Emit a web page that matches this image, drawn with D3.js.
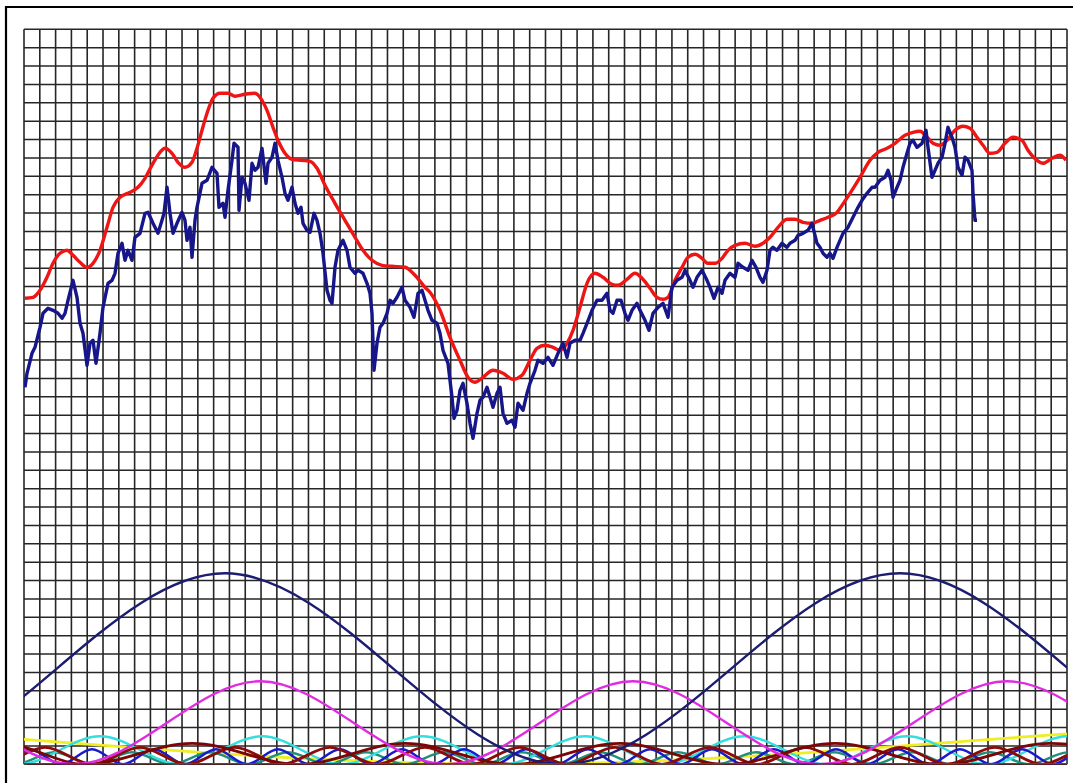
<!DOCTYPE html>
<html>
<head>
<meta charset="utf-8">
<script src="https://cdn.jsdelivr.net/npm/d3@7"></script>
<style>
  html, body { margin: 0; padding: 0; background: #ffffff; }
  svg { display: block; }
</style>
</head>
<body>
<svg id="chart" width="1073" height="783"></svg>
<script>
// ---- price series: [bar, level] ----
const price = [[1,377],[3,391],[8,411],[11,417],[16,437],[19,451],[24,456],[29,454],[34,451],[38,446],[41,451],[44,464],[49,484],[53,467],[56,441],[59,431],[63,399],[66,421],[69,424],[72,401],[76,431],[79,457],[84,481],[88,484],[91,491],[94,511],[98,521],[101,504],[104,514],[108,504],[111,527],[116,531],[121,551],[124,552],[129,541],[134,531],[138,544],[140,551],[143,577],[146,551],[149,531],[153,541],[158,552],[161,544],[163,524],[166,537],[168,507],[171,544],[173,557],[178,581],[183,584],[188,597],[193,591],[195,557],[199,561],[201,547],[204,574],[208,604],[210,621],[214,617],[215,554],[218,587],[221,581],[225,564],[228,601],[231,594],[234,597],[238,616],[242,581],[244,601],[248,607],[251,621],[254,604],[258,587],[261,571],[264,564],[268,577],[271,561],[274,551],[277,557],[279,541],[283,534],[286,532],[290,551],[293,544],[296,531],[299,511],[303,474],[306,464],[308,461],[311,497],[314,514],[319,524],[323,514],[326,497],[331,491],[334,494],[339,491],[343,481],[346,471],[348,451],[350,394],[353,421],[356,437],[359,441],[363,451],[366,464],[369,461],[373,467],[378,477],[381,464],[386,457],[390,447],[394,471],[398,474],[401,464],[404,454],[408,444],[413,441],[416,431],[419,414],[424,401],[428,367],[430,346],[433,354],[436,374],[439,381],[443,361],[446,341],[449,326],[453,351],[456,364],[459,367],[463,377],[466,367],[469,357],[473,371],[476,377],[479,351],[483,341],[488,344],[491,337],[494,361],[499,354],[503,371],[506,381],[511,394],[514,404],[519,401],[524,407],[529,399],[534,411],[539,421],[543,407],[546,421],[551,424],[556,424],[559,431],[563,441],[568,454],[573,464],[578,464],[583,471],[586,454],[589,451],[593,464],[597,464],[601,451],[604,444],[608,454],[613,461],[616,454],[621,444],[625,434],[629,451],[634,457],[639,461],[644,447],[648,477],[653,484],[658,487],[661,494],[666,484],[669,477],[673,487],[678,494],[683,484],[686,477],[690,466],[694,477],[698,471],[701,484],[706,491],[711,487],[714,501],[719,497],[724,494],[728,504],[732,497],[736,487],[739,482],[743,494],[746,514],[749,517],[753,514],[758,521],[763,517],[766,521],[771,524],[774,529],[779,531],[784,534],[788,541],[793,521],[796,517],[799,511],[803,507],[806,511],[809,506],[813,517],[816,524],[819,531],[824,537],[829,547],[834,557],[838,564],[843,571],[848,577],[851,577],[856,584],[861,587],[864,594],[867,584],[869,567],[873,577],[876,584],[879,597],[883,611],[886,621],[889,624],[893,617],[898,621],[902,634],[904,617],[908,587],[911,594],[914,601],[918,607],[921,621],[924,637],[928,627],[931,617],[934,597],[938,589],[941,607],[944,604],[948,594],[949,571],[951,544],[953,544]];

// ---- composite cycle projection (extends past the last price bar) ----
const projection = [[1,466],[9,467],[16,474],[23,487],[29,501],[36,511],[43,514],[49,509],[56,502],[63,497],[69,501],[76,514],[83,537],[89,557],[96,567],[106,572],[114,577],[121,586],[129,601],[136,612],[141,616],[148,611],[154,602],[161,597],[168,602],[173,616],[178,634],[183,651],[189,666],[196,671],[204,671],[211,668],[221,670],[231,671],[238,664],[243,654],[249,637],[254,624],[261,611],[268,605],[278,604],[286,603],[293,596],[301,579],[311,561],[321,544],[331,527],[339,514],[348,504],[358,499],[368,498],[381,497],[391,489],[401,477],[406,472],[416,454],[426,427],[436,404],[444,387],[451,382],[459,387],[469,394],[479,391],[489,385],[498,389],[506,404],[513,416],[521,419],[529,417],[536,414],[543,421],[549,434],[556,457],[563,481],[571,491],[579,487],[588,480],[594,479],[603,485],[611,491],[618,486],[626,476],[633,467],[639,465],[644,467],[651,484],[658,497],[664,507],[671,510],[678,506],[684,501],[691,501],[698,506],[704,514],[711,519],[721,521],[731,518],[739,521],[746,527],[754,537],[763,545],[771,545],[779,542],[788,541],[796,544],[804,547],[813,552],[816,556],[826,571],[836,587],[846,604],[854,612],[863,616],[871,621],[881,629],[889,632],[896,633],[903,627],[909,621],[916,619],[923,624],[931,634],[939,638],[946,636],[953,627],[959,619],[966,611],[973,612],[981,621],[989,627],[998,624],[1004,614],[1013,604],[1019,601],[1028,606],[1036,609],[1042,604]];

// ---- individual cycles: turning points [bar, amplitude] ----
const cycleLong   = [[-474,191],[-136,0],[201,191],[538,0],[876,191],[1213,0],[1551,191]];
const cycleMid    = [[-324,0],[-137,83],[50,0],[236,83],[423,0],[609,83],[796,0],[983,83],[1170,0],[1356,83]];
const cycleShort  = [[-86,28],[-5,0],[76,28],[157,0],[238,28],[318,0],[398,28],[480,0],[561,28],[640,0],[720,28],[802,0],[883,28],[964,0],[1044,28],[1125,0],[1206,28]];
const cycleSlow   = [[-1318,0],[-418,45],[483,0],[1383,45],[2283,0]];
const cycleQuarter = [[-130,0],[-22,21],[61,0],[168,21],[275,0],[381,21],[489,0],[596,21],[703,0],[811,21],[918,0],[1026,21],[1133,0]];
const cycleA      = [[-75,17],[-27,0],[21,17],[68,0],[116,17],[163,0],[211,17],[258,0],[306,17],[353,0],[401,17],[448,0],[496,17],[543,0],[591,17],[638,0],[686,17],[733,0],[781,17],[828,0],[876,17],[923,0],[971,17],[1018,0],[1066,17],[1113,0]];
const cycleB      = [[-56,15],[-25,0],[6,15],[37,0],[68,15],[99,0],[130,15],[161,0],[192,15],[223,0],[254,15],[285,0],[316,15],[347,0],[378,15],[409,0],[440,15],[471,0],[502,15],[533,0],[564,15],[595,0],[626,15],[657,0],[688,15],[719,0],[750,15],[781,0],[812,15],[843,0],[874,15],[905,0],[936,15],[967,0],[998,15],[1029,0],[1060,15],[1091,0]];
const cycleC      = [[-48,12],[-9,0],[30,12],[69,0],[108,12],[147,0],[186,12],[225,0],[264,12],[303,0],[342,12],[381,0],[420,12],[459,0],[498,12],[537,0],[576,12],[615,0],[654,12],[693,0],[732,12],[771,0],[810,12],[849,0],[888,12],[927,0],[966,12],[1005,0],[1044,12],[1083,0]];

const gridCols = 66, gridRows = 40;

const svg = d3.select("#chart");
const plot = { left: 24, right: 1067, top: 29.3, bottom: 764.3 };
const x = d3.scaleLinear().domain([0, 1043]).range([plot.left, plot.right]);
const y = d3.scaleLinear().domain([0, 735]).range([plot.bottom, plot.top]);

// outer frame (top and left rules)
svg.append("line").attr("x1", 6).attr("x2", 1073).attr("y1", 7).attr("y2", 7)
  .attr("stroke", "#000").attr("stroke-width", 2.2);
svg.append("line").attr("x1", 6).attr("x2", 6).attr("y1", 6).attr("y2", 783)
  .attr("stroke", "#000").attr("stroke-width", 2.2);

svg.append("defs").append("clipPath").attr("id", "plotClip")
  .append("rect").attr("x", plot.left).attr("y", plot.top)
  .attr("width", plot.right - plot.left).attr("height", plot.bottom - plot.top);

// grid
const grid = svg.append("g").attr("stroke", "#262626").attr("stroke-width", 1.6);
const colVals = d3.range(gridCols + 1).map(i => i * 1043 / gridCols);
const rowVals = d3.range(gridRows + 1).map(j => j * 735 / gridRows);
grid.selectAll("line.v").data(colVals).join("line").attr("class", "v")
  .attr("x1", d => x(d)).attr("x2", d => x(d))
  .attr("y1", plot.top).attr("y2", plot.bottom);
grid.selectAll("line.h").data(rowVals).join("line").attr("class", "h")
  .attr("x1", plot.left).attr("x2", plot.right)
  .attr("y1", d => y(d)).attr("y2", d => y(d));

const layer = svg.append("g").attr("clip-path", "url(#plotClip)");
const smooth = d3.line().x(d => x(d[0])).y(d => y(d[1])).curve(d3.curveMonotoneX);
const straight = d3.line().x(d => x(d[0])).y(d => y(d[1]));

const cycles = [
  { data: cycleSlow,    color: "#eeee22", w: 2.8 },
  { data: cycleC,       color: "#1f8f7a", w: 2.4 },
  { data: cycleShort,   color: "#33dede", w: 2.4 },
  { data: cycleB,       color: "#1a1acc", w: 2.6 },
  { data: cycleA,       color: "#8c0a0a", w: 2.8 },
  { data: cycleQuarter, color: "#7a0606", w: 2.8 },
  { data: cycleMid,     color: "#e02ce0", w: 2.4 },
  { data: cycleLong,    color: "#1c1c70", w: 2.4 }
];
layer.selectAll("path.cycle").data(cycles).join("path").attr("class", "cycle")
  .attr("d", c => smooth(c.data)).attr("fill", "none")
  .attr("stroke", c => c.color).attr("stroke-width", c => c.w);

// zero line of the cycle panel
layer.append("line").attr("x1", plot.left).attr("x2", plot.right)
  .attr("y1", y(0)).attr("y2", y(0)).attr("stroke", "#b02020").attr("stroke-width", 2.4);

layer.append("path").attr("d", smooth(projection)).attr("fill", "none")
  .attr("stroke", "#ee1515").attr("stroke-width", 3.4).attr("stroke-linejoin", "round");
layer.append("path").attr("d", straight(price)).attr("fill", "none")
  .attr("stroke", "#16168a").attr("stroke-width", 3.4).attr("stroke-linejoin", "round");
</script>
</body>
</html>
